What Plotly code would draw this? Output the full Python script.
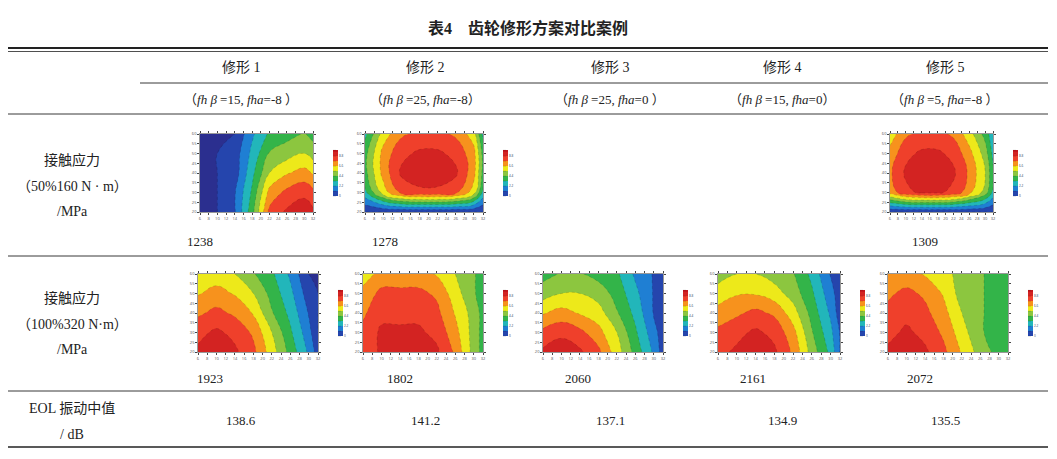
import plotly.graph_objects as go

W, H = 1057, 459
title = "表4　齿轮修形方案对比案例"
schemes = ["修形 1", "修形 2", "修形 3", "修形 4", "修形 5"]
params = ["（<i>fh β</i> =15, <i>fha</i>=-8 ）", "（<i>fh β</i> =25, <i>fha</i>=-8）",
          "（<i>fh β</i> =25, <i>fha</i>=0 ）", "（<i>fh β</i> =15, <i>fha</i>=0）",
          "（<i>fh β</i> =5, <i>fha</i>=-8 ）"]
stress50 = ["1238", "1278", "", "", "1309"]
stress100 = ["1923", "1802", "2060", "2161", "2072"]
eol = ["138.6", "141.2", "137.1", "134.9", "135.5"]

gx = [6, 10, 14, 18, 22, 26, 30, 32]
gy = [20, 30, 40, 50, 60]
# estimated normalized contact-stress fields (rows bottom -> top)
z50 = {
    0: [[0,0,1,4,8,9,9.5,9],[0,0,1,3.5,7,8,8.5,8],[0,0,0.5,3,5.5,6.5,7,6.5],[0,0,0.5,2.5,4.5,5,5.5,5],[0,0,0,2,3.5,4,4.5,4]],
    1: [[0,0,0,0,0,0,0,0],[3,6,8,8.5,8.5,8,6,3],[4,7,9,9.5,9.5,9,7,4],[4,7,8.5,9,9,8.5,7,4],[3,6,7.5,8,8,7.5,6,3]],
    4: [[0,0,0,0,0,0,0,0],[7,8.5,9,9,8.5,7,5,3],[7.5,9,9.5,9.5,9,7.5,5.5,3.5],[7,8.5,9,9,8.5,7,5,3],[6,7.5,8,8,7.5,6,4,2.5]],
}
z100 = {
    0: [[9,9.5,9,8,6,4,2,0.5],[8.5,9,8.5,7.5,5.5,3.5,1.5,0],[7.5,8,7.5,6.5,4.5,3,1,0],[6.5,7,6.5,5.5,4,2.5,0.5,0],[5.5,6,5.5,4.5,3.5,2,0,0]],
    1: [[8,9,9.5,9.5,9,7.5,5,4],[8,9,9,9,8.5,7,5,4],[7.5,8.5,8.5,8.5,8,6.5,5,4],[7,8,8,8,7.5,6,4.5,4],[6,7,7,7,6.5,5.5,4.5,4]],
    2: [[9,9.5,9,8,6,4,2,0.5],[8,8.5,8,7,5.5,3.5,1.5,0.5],[6.5,7,6.5,6,4.5,3,1,0.5],[5,5.5,5.5,5,4,2.5,1,0.5],[4,4.5,4.5,4,3.5,2,1,0.5]],
    3: [[8.5,9,9.5,9,7.5,5,3,1],[8,8.5,9,8.5,7,4.5,2.5,1],[7,7.5,8,7.5,6,4,2,0.5],[6,6.5,6.5,6,5,3.5,1.5,0.5],[5,5.5,5.5,5,4.5,3,1,0]],
    4: [[9,9.5,9,8,6.5,5,4,3.5],[8.5,9,8.5,7.5,6,4.5,4,3.5],[8,8.5,8,7,5.5,4.5,4,3.5],[7.5,8,7.5,6.5,5,4.5,4,3.5],[7,7,6.5,6,5,4.5,4,3.5]],
}
cs = [[0, "#2b2f8f"], [0.12, "#1f5fd0"], [0.25, "#1fb7d8"], [0.38, "#2cb34a"], [0.5, "#8cc63f"],
      [0.62, "#f5ec17"], [0.72, "#f7941d"], [0.84, "#ef3b2c"], [1, "#c4161c"]]

OX, OY = 8, 8
def px(x):
    return (x - OX) / W
def py(y):
    return 1 - (y - OY) / H

fig = go.Figure()
ax = [0]

def add_map(z, x0, x1, y0, y1):
    ax[0] += 1
    n = ax[0]
    xa = "xaxis" if n == 1 else f"xaxis{n}"
    ya = "yaxis" if n == 1 else f"yaxis{n}"
    cx0, cx1 = px(x0 + 10), px(x1 - 22)
    cy0, cy1 = py(y1 - 10), py(y0 + 12)
    fig.add_trace(go.Contour(
        x=gx, y=gy, z=z, colorscale=cs, zmin=0, zmax=10, contours=dict(start=0, end=10, size=1.1),
        line=dict(width=0.4, color="rgba(0,0,0,0.35)", dash="dot"), line_smoothing=1.3,
        xaxis="x" if n == 1 else f"x{n}", yaxis="y" if n == 1 else f"y{n}",
        colorbar=dict(x=px(x1 - 12), xanchor="left", y=(cy0 + cy1) / 2, len=(cy1 - cy0) * 0.85,
                      thickness=5, tickfont=dict(size=3), outlinewidth=0, ticks=""),
        hoverinfo="skip"))
    common = dict(showgrid=False, zeroline=False, ticks="outside", ticklen=2, tickfont=dict(size=4, color="#555"),
                  mirror="ticks", showline=True, linecolor="#999", linewidth=0.5)
    fig.update_layout(**{xa: dict(domain=[cx0, cx1], anchor="y" if n == 1 else f"y{n}", range=[6, 32],
                                  dtick=2, **common),
                         ya: dict(domain=[cy0, cy1], anchor="x" if n == 1 else f"x{n}", range=[20, 60],
                                  dtick=5, **common)})

img50 = [(190, 335), (355, 505), None, None, (880, 1015)]
img100 = [(188, 340), (353, 505), (533, 685), (708, 862), (878, 1030)]
for i in range(5):
    if i in z50:
        add_map(z50[i], img50[i][0], img50[i][1], 122, 222)
    add_map(z100[i], img100[i][0], img100[i][1], 262, 362)

ann = []
def t(x, y, s, size=14, **kw):
    ann.append(dict(x=px(x), y=py(y), xref="paper", yref="paper", text=s, showarrow=False,
                    xanchor="center", yanchor="middle",
                    font=dict(size=size, color="#222", family="Liberation Serif, Noto Sans CJK SC"), **kw))

t(528, 28, "<b>" + title + "</b>", 16)
cols = [241, 425, 610, 782, 945]
for i in range(5):
    t(cols[i], 68, schemes[i], 14)
    t(cols[i], 99, params[i], 13)
    if stress50[i]:
        t([200, 385, 0, 0, 925][i], 242, stress50[i], 13)
    t([210, 400, 578, 753, 920][i], 378, stress100[i], 13)
    t(cols[i], 420, eol[i], 13)
for y, s in [(160, "接触应力"), (186, "（50%160 N · m）"), (211, "/MPa"),
             (298, "接触应力"), (324, "（100%320 N·m）"), (349, "/MPa"),
             (408, "EOL 振动中值"), (434, "/ dB")]:
    t(72, y, s, 14)

shapes = []
def hl(x0, x1, y, w):
    shapes.append(dict(type="line", xref="paper", yref="paper", x0=px(x0), x1=px(x1), y0=py(y), y1=py(y),
                       line=dict(color="#222", width=w)))
hl(8, 1048, 48, 2.2)
hl(8, 1048, 51.5, 0.8)
hl(140, 1048, 83, 0.9)
hl(8, 1048, 114, 0.9)
hl(8, 1048, 256, 0.9)
hl(8, 1048, 391, 0.9)
hl(8, 1048, 447, 1.6)

fig.update_layout(width=W, height=H, margin=dict(l=0, r=0, t=0, b=0, autoexpand=False), paper_bgcolor="white",
                  plot_bgcolor="white", annotations=ann, shapes=shapes, showlegend=False)
fig.write_html("out.html")
